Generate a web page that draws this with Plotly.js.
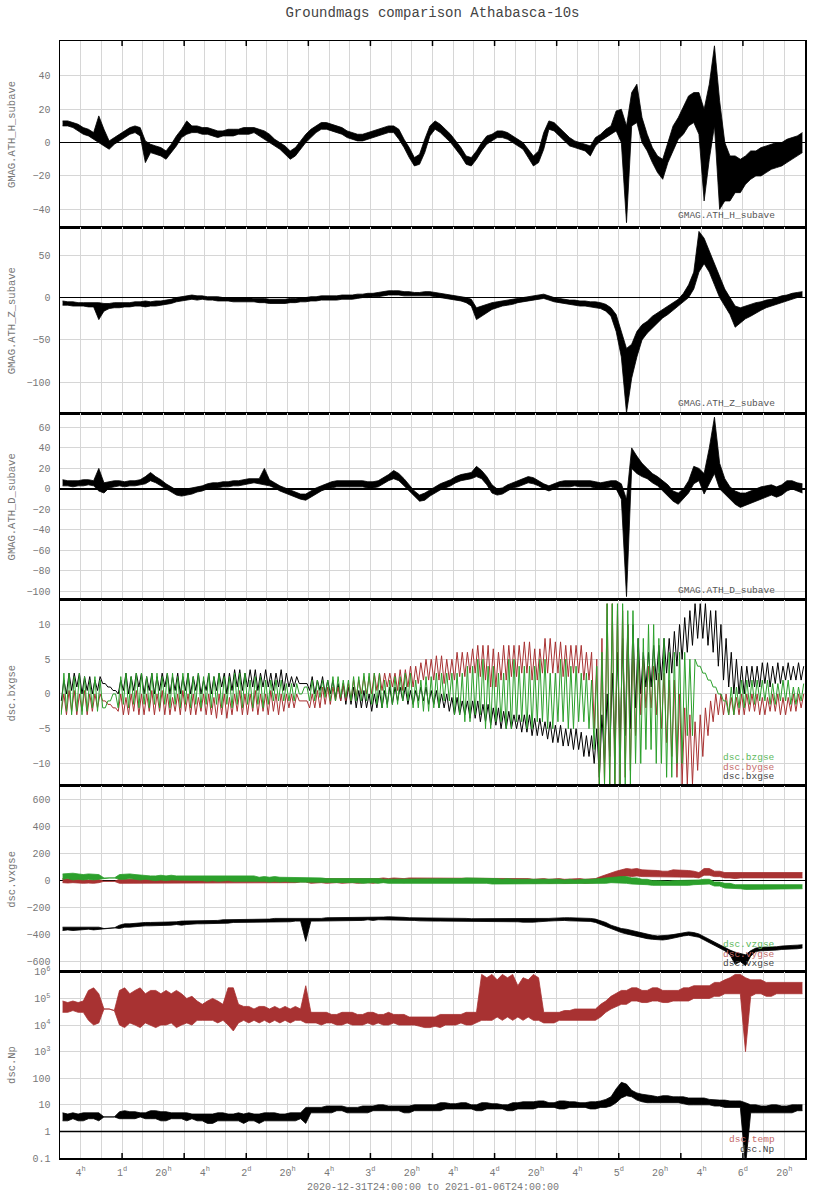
<!DOCTYPE html>
<html>
<head>
<meta charset="utf-8">
<script src="https://cdn.plot.ly/plotly-3.0.1.min.js"></script>
<style>html,body{margin:0;padding:0;background:#fff}#chart{width:815px;height:1200px}</style>
</head>
<body>
<div id="chart"></div>
<script>
// ---------- time base ----------
const START_MS = Date.UTC(2021, 0, 1);       // 2020-12-31T24:00:00
const HOUR_MS = 3600000;
const SPAN_HOURS = 144;
// 1-hour bins: centre of each bin in hours from start
const hourBins = Array.from({length: 144}, (_, j) => j + 0.5);

// x tick labels (every 8 h) and extra 4-hourly grid lines
const tickHours = [4,12,20,28,36,44,52,60,68,76,84,92,100,108,116,124,132,140];
const tickText = ['4<sup>h</sup>','1<sup>d</sup>','20<sup>h</sup>','4<sup>h</sup>','2<sup>d</sup>','20<sup>h</sup>',
                  '4<sup>h</sup>','3<sup>d</sup>','20<sup>h</sup>','4<sup>h</sup>','4<sup>d</sup>','20<sup>h</sup>',
                  '4<sup>h</sup>','5<sup>d</sup>','20<sup>h</sup>','4<sup>h</sup>','6<sup>d</sup>','20<sup>h</sup>'];
const gridHours = [8,16,24,32,40,48,56,64,72,80,88,96,104,112,120,128,136];
const markHours = [12,24,36,48,60,72,84,96,108,120,132];

// ---------- data: low / high of the 10 s samples in each hour ----------
const H_lo = [10,10,9,7,5,4,2,0,-2,-4, -1,1,3,5,6,4,-12,-6,-7,-8, -10,-6,-2,3,5,6,6,5,5,4, 3,4,4,4,5,5,5,6,4,2,
  0,-2,-4,-7,-10,-8,-4,0,3,6, 8,8,7,6,5,3,2,1,1,2, 3,4,5,6,6,2,-3,-9,-14,-13, -6,4,8,6,3,0,-4,-8,-13,-14,
  -10,-5,-1,1,3,3,2,0,-2,-4, -9,-14,-12,-4,8,7,4,1,-2,-3, -4,-5,-8,-2,1,3,5,7,0,-48, 10,12,0,-5,-12,-18,-22,-12,-5,2,
  5,10,12,5,-35,-10,10,-40,-35,-35, -30,-30,-25,-22,-20,-20,-18,-16,-15,-14, -12,-10,-8,-6];
const H_hi = [13,13,12,11,9,8,6,16,8,1, 3,5,7,9,10,9,1,-1,-2,-3, -5,-1,4,8,13,10,10,9,9,8, 7,7,8,8,8,9,9,9,8,7,
  5,2,0,-2,-5,-3,1,5,8,10, 12,12,11,10,9,7,6,5,5,6, 7,8,9,10,10,8,2,-3,-9,-7, 2,10,13,11,8,5,1,-3,-8,-9,
  -5,0,4,5,7,7,6,4,2,0, -4,-8,-5,6,13,12,9,6,3,1, 0,-1,-2,3,5,8,10,19,20,10, 30,35,15,5,-3,-8,-10,0,10,15,
  22,28,30,30,20,35,58,25,0,-8, -8,-10,-8,-5,-5,-3,-2,-1,0,0, 2,3,4,6];

const Z_lo = [-9,-9,-10,-10,-10,-11,-11,-26,-16,-13, -12,-12,-11,-11,-10,-10,-11,-10,-10,-9, -8,-7,-5,-4,-3,-2,-3,-2,-3,-3,
  -4,-4,-4,-5,-5,-5,-5,-5,-6,-6, -7,-7,-7,-7,-6,-6,-5,-5,-4,-4, -3,-3,-3,-3,-2,-2,-2,-1,0,0, 1,1,2,3,3,3,2,2,2,2,
  2,2,1,0,-1,-2,-3,-4,-6,-10, -26,-22,-18,-14,-12,-10,-9,-8,-6,-5, -4,-3,-2,-1,-3,-5,-6,-7,-8,-9,
  -10,-10,-11,-12,-13,-16,-22,-40,-70,-136, -95,-70,-50,-42,-36,-30,-24,-20,-15,-10, -6,0,10,30,40,30,15,0,-10,-20,
  -35,-30,-25,-22,-18,-15,-12,-10,-8,-6, -4,-2,0,1];
const Z_hi = [-4,-5,-5,-6,-6,-6,-6,-6,-7,-7, -6,-6,-6,-6,-5,-5,-4,-5,-4,-4, -3,-2,0,1,2,3,2,2,1,1, 1,0,0,0,0,0,0,-1,-1,-1,
  -2,-2,-2,-2,-1,-1,0,0,1,1, 2,2,2,2,3,3,3,4,4,5, 5,6,7,8,8,8,7,7,6,6, 7,7,6,5,4,3,2,1,0,-2,
  -12,-10,-8,-6,-5,-4,-3,-2,-1,0, 1,2,3,4,2,0,-1,-2,-3,-3, -4,-4,-5,-5,-6,-8,-12,-20,-40,-60,
  -55,-40,-32,-28,-22,-18,-14,-10,-6,-2, 5,15,30,78,70,55,40,25,10,0, -10,-12,-10,-8,-6,-5,-3,-2,0,2, 3,5,6,7];

const D_lo = [3,3,2,3,3,4,3,-2,-4,1, 2,3,2,3,3,4,5,8,6,3, 0,-3,-6,-7,-6,-5,-3,-2,0,1, 1,2,2,3,3,4,5,6,5,4,
  3,1,-2,-4,-6,-8,-10,-11,-8,-5, -2,0,1,2,2,2,2,2,2,1, 1,2,5,8,10,8,3,-2,-8,-12, -11,-7,-4,-1,1,3,6,8,9,10,
  12,10,4,-4,-6,-5,-2,1,2,4, 6,5,3,0,-2,0,2,2,2,3, 2,2,2,1,0,1,2,0,-10,-105, 20,15,12,10,6,3,-2,-6,-12,-15,
  -10,-4,5,8,-5,5,15,0,-5,-10, -15,-18,-16,-14,-12,-10,-8,-6,-8,-6, -2,0,-2,-4];
const D_hi = [9,8,8,8,9,9,8,20,6,7, 8,8,7,8,8,9,12,16,12,9, 5,2,-1,-1,0,1,2,3,5,6, 6,7,7,8,8,9,10,10,10,20,
  9,6,3,1,-1,-3,-5,-5,-2,1, 3,5,7,8,8,8,8,8,8,7, 7,8,11,14,18,15,10,4,-2,-6, -4,-1,2,5,7,9,12,14,15,16,
  22,18,12,4,0,1,4,6,8,10, 12,11,8,5,3,5,7,8,8,8, 8,8,8,7,6,7,8,8,5,-10, 40,32,25,20,15,12,8,4,-2,-4,
  0,8,22,20,15,40,70,25,10,2, -2,-4,-4,-2,0,2,3,4,2,4, 8,8,6,5];

const BX_lo = [-1,0,0.5,1,0,0.5,0,0.5,1.5,1, 0.5,0,0.5,0,0.5,1,0,0.5,0,0.5, 1,0,0.5,0,0.5,0,0.5,0,0.5,0,
  0.5,1,0,0.5,1,0.5,1,1,0.5,1, 1,0.5,1,0.5,1,1,1.5,1.5,0.5,0, 0.5,0,0,-0.5,-1,-1.5,-1.5,-2,-2,-2,
  -2.5,-2,-2,-1.5,-1.5,-1,-1,-1.5,-1.5,-1, -1,-1.5,-1.5,-2,-2,-2.5,-3,-3,-3,-3.5, -3.5,-4,-4,-4.5,-4.5,-5,-5,-5,-5,-5.5,
  -5.5,-6,-6,-6,-6.5,-7,-7,-7.5,-7.5,-8, -8,-9,-9,-10,-12,-10,-9,-8,-8,-6, -5,-2,0,1,1,2,2,3,3,4,
  5,6,7,8,8,7,6,4,2,1, 0,0,0,1,1,1,1.5,1,1.5,1.5, 2,2,2,2];
const BX_hi = [2,3,3,3,2.5,2.5,2,2.5,1.5,1, 0.5,2,3,2.5,3,3,2.5,3,2.5,3, 3,2.5,3,2.5,3,2.5,3,2,3,2.5,
  3,3,3,3.5,3.5,3,3.5,3.5,3,3.5, 3,3,3.5,3,2.5,2.5,1.5,1.5,2.5,2, 2.5,2,2,1.5,1.5,1,1,0.5,0.5,0,
  0,0.5,0.5,1,1,1,1,0.5,0.5,1, 1,0.5,0.5,0,0,-0.5,-0.5,-1,-1,-1, -1,-1.5,-1.5,-2,-2,-2.5,-2.5,-3,-3,-3,
  -3,-3.5,-3.5,-4,-4,-4.5,-4.5,-5,-5,-5, -5.5,-6,-6,-5,-3,0,3,6,8,10, 10,8,6,6,7,7,8,8,9,10,
  11,12,13,13,13,12,12,10,8,6, 5,4,4,4,4,4.5,4.5,4,4.5,4, 4.5,4,4.5,4];
const BY_lo = [-2.5,-3,-2.5,-3,-2.5,-3,-2.5,-2,-1,-1.5, -2,-2.5,-3,-3,-2.5,-3,-3,-2.5,-3,-2.5, -3,-3,-2.5,-3,-2.5,-3,-3,-2.5,-3,-3,
  -3.5,-3,-3.5,-3,-2.5,-3,-3,-2.5,-3,-2.5, -3,-2.5,-3,-2.5,-2,-2,-1,-1,-2,-2, -2,-1.5,-1.5,-1,-1,-1,-1,-0.5,0,0,
  0,0.5,0.5,1,1,0.5,0.5,1,1,1.5, 2,2,2,2,1.5,2,2,2.5,2.5,3, 3,2.5,2,1,1,2,2,2.5,2.5,3,
  3,2,2,3,3,3,3,2.5,2.5,3, 3,2,2,-5,-13,-13,-13,-13,-13,-12, -11,-6,-3,-2,-2,-3,-5,-7,-9,-12,
  -13,-13,-13,-11,-9,-6,-4,-3,-3,-3, -3,-3,-3,-2.5,-2.5,-3,-3,-2.5,-2.5,-3, -3,-2.5,-2.5,-2];
const BY_hi = [0,0.5,0.5,0,0.5,0,0,0,-1,-1.5, -2,0,-0.5,0,0.5,0,0,0.5,0,0.5, 0,-0.5,0,0.5,0,0,-0.5,0,0,-0.5,
  0,0,-0.5,0,0.5,0,0,0.5,0,0, 0.5,0,0,0,0,0,-1,-1,0,0.5, 1,1,1,1,1.5,1.5,2,2,2.5,2.5,
  3,3,3,3,3,3.5,3.5,4,4,4.5, 5,5,5.5,5.5,5,5,6,6,6,6.5, 7,7,7,6.5,6,7,7,7,7,7.5,
  7.5,6.5,6.5,8,8,7.5,7.5,7,7,7, 7,6,6,5,8,13,13,12,12,10, 8,6,5,4,4,3,3,2,2,0,
  -2,-3,-4,-3,-2,-1,0,0,0,-0.5, -0.5,0,0,0,0,-0.5,-0.5,0,0,-0.5, -0.5,0,0,0];
const BZ_lo = [-3,-2.5,-3,-2.5,-3,-2.5,-2,-2.5,-2,-1, 0,-2,-1.5,-2,-1.5,-2,-1.5,-2,-1.5,-2, -1.5,-2,-1.5,-2,-1.5,-2,-1.5,-2,-1.5,-2,
  -1.5,-2,-1.5,-2,-1.5,-2,-1.5,-2,-1.5,-2, -1.5,-1,-1,-1,-1,-1,0,1,-1,-1, -0.5,-0.5,-1,-1,-0.5,-0.5,-1,-1,-1,-1,
  -1.5,-1.5,-2,-2,-1.5,-1.5,-1,-1,-2,-2, -2.5,-2.5,-2,-2,-1,-1,-3,-3,-4,-4, -3,-3,-5,-5,-4,-4,-5,-5,-4,-4,
  -5,-5,-4,-4,-5,-5,-4,-4,-5,-5, -4,-4,-5,-8,-13,-13,-13,-13,-13,-13, -13,-10,-10,-8,-8,-10,-10,-12,-12,-10,
  -10,-6,-6,4,3,2,1,0,-1,-3, -3,-2,-2,-1.5,-1.5,-1,-1,-1.5,-1.5,-1, -1,-1.5,-1.5,-1];
const BZ_hi = [3,3,2.5,3,2.5,2,2.5,2,-2,-1, 0,2.5,3,2.5,3,3,2.5,3,3,2.5, 3,3,2.5,3,3,2.5,3,2.5,3,2.5,
  3,2.5,2.5,3,3,3,2,2.5,2.5,2, 2,2,2,1.5,1.5,1.5,0,1,2,2, 2,2,2.5,2.5,2,2,2.5,2.5,3,3,
  3,3,2,2,2.5,2.5,3,3,2,2, 2.5,2.5,3,3,3,3,3,3,4,4, 5,5,4,4,3,3,5,5,4,4,
  4,4,5,5,3,3,5,5,4,4, 3,3,2,4,6,13,13,13,13,12, 12,8,8,10,10,8,8,6,6,6,
  6,5,5,4,3,2,1,0,-1,1, 1,2,2,2,2,2,2,1.5,1.5,2, 2,1,1,1.5];

const VX_lo = [-370,-365,-370,-365,-365,-360,-365,-360,-355,-352, -350,-355,-345,-345,-340,-340,-335,-335,-335,-330,
  -330,-330,-325,-330,-325,-320,-320,-320,-320,-315, -315,-315,-315,-310,-310,-310,-310,-310,-305,-310,
  -305,-305,-305,-305,-305,-300,-300,-450,-300,-300, -300,-300,-300,-295,-295,-295,-295,-295,-295,-290,
  -295,-290,-290,-290,-290,-292,-295,-295,-295,-298, -300,-300,-300,-300,-300,-300,-300,-302,-300,-305,
  -305,-302,-300,-302,-300,-305,-305,-305,-305,-308, -310,-308,-305,-305,-300,-298,-295,-295,-298,-300,
  -300,-300,-302,-310,-325,-340,-360,-375,-385,-395, -405,-410,-420,-430,-435,-440,-440,-435,-425,-420,
  -410,-405,-410,-420,-440,-460,-480,-495,-520,-550, -620,-600,-630,-560,-525,-520,-520,-515,-515,-510, -510,-505,-505,-500];
const VX_hi = [-345,-345,-345,-340,-340,-340,-345,-345,-355,-352, -350,-330,-320,-320,-315,-315,-310,-310,-310,-305,
  -305,-305,-305,-300,-300,-300,-300,-295,-295,-295, -295,-290,-290,-290,-290,-285,-285,-285,-285,-285,
  -285,-280,-280,-280,-280,-285,-285,-285,-280,-280, -280,-275,-275,-275,-275,-275,-275,-270,-270,-270,
  -270,-270,-270,-268,-268,-270,-272,-275,-275,-275, -275,-278,-280,-280,-278,-280,-280,-280,-280,-282,
  -282,-280,-280,-280,-280,-282,-285,-285,-285,-285, -285,-285,-285,-283,-280,-278,-275,-275,-275,-275,
  -275,-278,-280,-285,-295,-310,-330,-345,-355,-360, -370,-380,-390,-395,-405,-410,-410,-405,-400,-395,
  -385,-380,-385,-395,-415,-435,-460,-475,-495,-515, -530,-540,-550,-520,-500,-495,-495,-490,-490,-485, -485,-480,-478,-475];
const VY_lo = [-15,-18,-15,-20,-20,-18,-20,-15,-5,-5, -5,-20,-20,-15,-18,-15,-20,-15,-15,-20, -15,-18,-20,-15,-15,-20,-18,-15,-20,-15,
  -15,-20,-15,-18,-20,-15,-15,-20,-18,-15, -20,-15,-18,-20,-15,-15,-10,-10,-20,-15, -15,-20,-18,-15,-20,-15,-15,-20,-18,-15,
  -20,-15,-10,-15,-10,-12,-15,-10,-10,-15, -10,-12,-15,-10,-10,-15,-10,-12,-10,-10, -15,-10,-10,-15,-12,-10,-15,-10,-12,-15,
  -15,-20,-18,-15,-20,-15,-15,-20,-18,-20, -15,-20,-20,-15,-5,5,15,25,25,35, 30,35,30,30,30,30,25,30,30,25,
  30,30,25,20,40,40,30,30,20,20, 15,20,20,15,20,15,20,20,20,15, 15,20,20,20];
const VY_hi = [15,12,10,10,8,5,5,8,-5,-5, -5,10,10,15,12,15,10,15,15,10, 15,12,10,15,15,10,12,15,10,15,
  15,10,15,12,10,15,15,10,12,15, 10,15,12,10,15,15,5,5,10,15, 15,10,12,15,10,15,15,10,12,15,
  10,15,20,15,20,18,15,20,20,15, 20,18,15,20,20,15,20,18,20,20, 15,20,20,15,18,20,15,20,18,15,
  15,10,12,15,10,15,15,10,12,10, 15,10,10,15,30,45,60,70,80,90, 85,90,80,80,75,75,70,70,80,80,
  75,75,70,60,90,90,70,70,60,60, 55,60,60,55,60,55,60,60,55,55, 55,60,60,60];
const VZ_lo = [10,15,5,10,5,10,5,10,20,20, 20,10,10,15,10,5,10,5,0,5, 0,5,5,0,0,5,0,0,-5,0,
  -5,0,0,-5,-5,0,-5,0,0,-5, -10,-5,-10,-5,-10,-10,-10,-10,-10,-15, -10,-15,-10,-10,-15,-10,-15,-15,-20,-15,
  -15,-20,-15,-20,-20,-15,-15,-20,-15,-20, -15,-20,-20,-15,-15,-20,-20,-15,-15,-20, -15,-20,-20,-25,-25,-20,-20,-25,-25,-20,
  -25,-20,-20,-25,-25,-20,-20,-25,-25,-20, -25,-20,-20,-25,-20,-20,-15,-15,-20,-20, -25,-25,-30,-30,-35,-35,-40,-40,-40,-40,
  -35,-35,-30,-30,-25,-25,-40,-40,-55,-55, -60,-60,-65,-65,-60,-60,-65,-65,-60,-60, -65,-65,-60,-60];
const VZ_hi = [50,55,55,50,45,50,45,45,20,20, 20,45,50,50,45,40,40,35,35,40, 35,40,35,35,30,35,30,30,30,30,
  30,35,35,30,30,30,30,35,25,30, 25,30,25,25,20,20,20,20,20,20, 20,15,15,20,15,15,15,15,15,15,
  15,15,10,10,15,15,10,15,15,10, 15,10,15,15,15,10,10,15,20,20, 15,15,20,15,15,10,15,10,10,15,
  10,15,10,10,15,10,10,5,10,5, 10,10,10,10,15,20,25,25,30,30, 20,20,10,10,0,0,-5,-5,0,0,
  5,5,5,5,10,10,-10,-10,-20,-20, -30,-30,-35,-35,-30,-30,-35,-35,-30,-30, -35,-35,-30,-30];

const TEMP_lo = [3e4,3e4,3.5e4,3e4,3e4,1.5e4,1e4,1.2e4,4e4,4e4, 3.5e4,1e4,8e3,1.2e4,1e4,8e3,1.2e4,1e4,8e3,1e4,
  1e4,1.2e4,8e3,1e4,1.2e4,1e4,1.5e4,1.5e4,1.5e4,1.5e4, 1.2e4,1.5e4,1e4,6e3,1.2e4,1.5e4,1.2e4,1.5e4,1.2e4,1.5e4,
  1.2e4,1.5e4,1.2e4,1.5e4,1.2e4,1.5e4,1.5e4,1.2e4,1.2e4,1.2e4, 1e4,1.2e4,1.2e4,1e4,1e4,1.2e4,1e4,1e4,1e4,1.2e4,
  1e4,1.2e4,1e4,1e4,1.2e4,1e4,1e4,1e4,1e4,9e3, 8e3,8e3,9e3,8e3,1e4,1e4,1e4,1.2e4,1e4,1e4,
  1.2e4,1.5e4,1.5e4,1.5e4,2e4,1.5e4,2e4,1.5e4,2e4,1.5e4, 2e4,1.5e4,1.5e4,1.2e4,1.2e4,1.2e4,1.5e4,1.5e4,1.5e4,1.5e4,
  1.5e4,1.5e4,1.5e4,1.5e4,2e4,3e4,4e4,5e4,6e4,6e4, 8e4,8e4,7e4,7e4,8e4,8e4,7e4,7e4,8e4,8e4,
  8e4,8e4,1e5,1e5,1e5,1e5,1.2e5,1.2e5,1.5e5,1.5e5, 1.5e5,1.5e5,1e3,1.2e5,1.5e5,1.5e5,1.2e5,1.2e5,1.5e5,1.5e5, 1.5e5,1.5e5,1.5e5,1.5e5];
const TEMP_hi = [8e4,7e4,8e4,7e4,8e4,2e5,2.5e5,1.5e5,4e4,4e4, 3.5e4,2e5,2.5e5,1.5e5,2e5,2.5e5,1.5e5,2e5,2e5,1.5e5,
  2e5,1.5e5,2e5,1.5e5,1e5,1.2e5,8e4,6e4,8e4,1e5, 8e4,6e4,2.5e5,2.5e5,6e4,5e4,5e4,4e4,5e4,5e4,
  4e4,5e4,4e4,5e4,4e4,5e4,4e4,3e5,3e4,3e4, 3e4,3e4,2.5e4,2.5e4,3e4,3e4,3e4,2.5e4,2.5e4,3e4,
  3e4,2.5e4,2.5e4,3e4,2.5e4,2.5e4,2.5e4,2e4,2e4,2e4, 2e4,2e4,2e4,2.5e4,2.5e4,2.5e4,2.5e4,2.5e4,3e4,3e4,
  3e4,8e5,6e5,8e5,5e5,8e5,6e5,8e5,3e5,6e5, 5e5,8e5,6e5,3e4,3e4,3e4,3e4,3.5e4,3.5e4,4e4,
  4e4,4e4,4e4,4e4,6e4,8e4,1.2e5,1.5e5,2e5,2e5, 2.5e5,2.5e5,2e5,2e5,2.5e5,2.5e5,2e5,2e5,2e5,2e5,
  2.5e5,2.5e5,3e5,3e5,3e5,3e5,4e5,4e5,5e5,6e5, 8e5,8e5,6e5,5e5,5e5,5e5,4e5,4e5,4e5,4e5, 4e5,4e5,4e5,4e5];
const NP_lo = [2.5,2.5,3,2.5,2.5,3,3,2.5,3.5,3.5, 3.5,3,3,3,3,3.5,3,3,3,2.5, 2.5,3,3,3,2.5,3,2.5,2.5,2,2,
  2.5,2.5,2.5,2.5,2.5,2,2.5,2.5,2,2.5, 2.5,2.5,2.5,2.5,2.5,2.5,3,2,5,5, 5,5,5,6,6,5,5,5,5,5,
  6,6,6,6,6,6,5,5,6,6, 6,6,6,6,7,7,7,7,7,7, 6,6,7,7,7,7,6,6,7,7,
  7,7,8,8,8,8,7,7,8,8, 8,8,7,7,8,8,9,12,18,22, 20,15,13,12,12,12,12,12,12,12,
  11,10,10,10,10,10,9,9,8,8, 8,8,0.05,5,5,5,5,5,5,5, 5,5,6,6];
const NP_hi = [5,4.5,5,4.5,5,5,5,5,3.5,3.5, 3.5,5.5,6,5.5,5.5,5,5,6,6,5.5, 5.5,5,5,5,5,4.5,4.5,4.5,4.5,4.5,
  5,5,4.5,4.5,5,4.5,5,4.5,4.5,5, 5,5,4.5,4.5,5,5,5,8,8,8, 8,9,9,9,9,8,8,8,9,9,
  9,10,10,9,9,9,9,9,10,10, 10,10,10,12,12,11,11,12,12,10, 10,12,12,11,11,10,10,12,12,13,
  13,13,14,14,12,12,14,14,13,13, 12,12,13,13,14,16,20,40,70,60, 35,28,25,24,22,20,22,22,20,20,
  20,18,18,18,18,16,15,15,15,14, 14,14,12,10,10,9,9,10,10,9, 9,10,10,10];

// sanity check: every series has one low/high pair per hour
[['H_lo',H_lo],['H_hi',H_hi],['Z_lo',Z_lo],['Z_hi',Z_hi],['D_lo',D_lo],['D_hi',D_hi],
 ['BX_lo',BX_lo],['BX_hi',BX_hi],['BY_lo',BY_lo],['BY_hi',BY_hi],['BZ_lo',BZ_lo],['BZ_hi',BZ_hi],
 ['VX_lo',VX_lo],['VX_hi',VX_hi],['VY_lo',VY_lo],['VY_hi',VY_hi],['VZ_lo',VZ_lo],['VZ_hi',VZ_hi],
 ['TEMP_lo',TEMP_lo],['TEMP_hi',TEMP_hi],['NP_lo',NP_lo],['NP_hi',NP_hi]]
 .forEach(([name, arr]) => { if (arr.length !== hourBins.length) throw new Error(name + ' has ' + arr.length + ' values'); });

// ---------- styling ----------
const MONO = '"Liberation Mono", "DejaVu Sans Mono", monospace';
const BLACK = '#000000', RED = '#a83232', GREEN = '#2ca02c';
const GRID = '#d6d6d6';
const toMs = h => START_MS + h * HOUR_MS;
const sfx = n => (n === 1 ? '' : String(n));

function band(lo, hi, color, n) {
  const x = hourBins.map(toMs);
  const common = {type: 'scatter', mode: 'lines', x: x, xaxis: 'x' + sfx(n), yaxis: 'y' + sfx(n),
                  hoverinfo: 'skip', showlegend: false};
  return [
    Object.assign({}, common, {y: lo, line: {color: color, width: 0.8}}),
    Object.assign({}, common, {y: hi, line: {color: color, width: 0.8}, fill: 'tonexty', fillcolor: color})
  ];
}
function zigzag(lo, hi, color, n) {
  const x = hourBins.flatMap(h => [toMs(h - 0.25), toMs(h + 0.25)]);
  const y = lo.flatMap((v, k) => [v, hi[k]]);
  return [{type: 'scatter', mode: 'lines', x: x, y: y, xaxis: 'x' + sfx(n), yaxis: 'y' + sfx(n),
           line: {color: color, width: 1}, hoverinfo: 'skip', showlegend: false}];
}

const traces = [].concat(
  band(H_lo, H_hi, BLACK, 1),
  band(Z_lo, Z_hi, BLACK, 2),
  band(D_lo, D_hi, BLACK, 3),
  zigzag(BX_lo, BX_hi, BLACK, 4),
  zigzag(BY_lo, BY_hi, RED, 4),
  zigzag(BZ_lo, BZ_hi, GREEN, 4),
  band(VX_lo, VX_hi, BLACK, 5),
  band(VY_lo, VY_hi, RED, 5),
  band(VZ_lo, VZ_hi, GREEN, 5),
  [{type: 'scatter', mode: 'lines', x: [toMs(0), toMs(SPAN_HOURS)], y: [1, 1], xaxis: 'x6', yaxis: 'y6',
    line: {color: '#000', width: 1.5}, hoverinfo: 'skip', showlegend: false}],
  band(TEMP_lo, TEMP_hi, RED, 6),
  band(NP_lo, NP_hi, BLACK, 6)
);

const panels = [
  {title: 'GMAG.ATH_H_subave', range: [-50.7, 60.9], tickvals: [-40,-20,0,20,40], zero: true,
   labels: [{text: 'GMAG.ATH_H_subave', color: '#555', y: 0.06}]},
  {title: 'GMAG.ATH_Z_subave', range: [-136.5, 83], tickvals: [-100,-50,0,50], zero: true,
   labels: [{text: 'GMAG.ATH_Z_subave', color: '#555', y: 0.054}]},
  {title: 'GMAG.ATH_D_subave', range: [-107.8, 73.7], tickvals: [-100,-80,-60,-40,-20,0,20,40,60], zero: true,
   labels: [{text: 'GMAG.ATH_D_subave', color: '#555', y: 0.048}]},
  {title: 'dsc.bxgse', range: [-13.2, 13.6], tickvals: [-10,-5,0,5,10], zero: false,
   labels: [{text: 'dsc.bzgse', color: '#5cb85c', y: 0.15}, {text: 'dsc.bygse', color: '#c46a6a', y: 0.10},
            {text: 'dsc.bxgse', color: '#444', y: 0.05}]},
  {title: 'dsc.vxgse', range: [-676, 704], tickvals: [-600,-400,-200,0,200,400,600], zero: true,
   labels: [{text: 'dsc.vzgse', color: '#5cb85c', y: 0.145}, {text: 'dsc.vygse', color: '#c46a6a', y: 0.093},
            {text: 'dsc.vxgse', color: '#444', y: 0.045}]},
  {title: 'dsc.Np', range: [-1, 6], type: 'log', tickvals: [0.1,1,10,100,1e3,1e4,1e5,1e6], zero: false,
   ticktext: ['0.1','1','10','100','10<sup>3</sup>','10<sup>4</sup>','10<sup>5</sup>','10<sup>6</sup>'],
   labels: [{text: 'dsc.temp', color: '#c46a6a', y: 0.097}, {text: 'dsc.Np', color: '#444', y: 0.045}]}
];

const layout = {
  width: 815, height: 1200,
  margin: {l: 60, r: 10, t: 41, b: 42, pad: 0},
  paper_bgcolor: '#ffffff', plot_bgcolor: '#ffffff',
  font: {family: MONO, size: 10, color: '#777'},
  showlegend: false,
  title: {text: 'Groundmags comparison Athabasca-10s', x: 0.5, xref: 'paper', xanchor: 'center',
          y: 1 - 12 / 1200, yref: 'container', yanchor: 'middle',
          font: {family: MONO, size: 14, color: '#444'}},
  annotations: [],
  shapes: []
};

const LEGEND_X = (777 - 60) / 745;
panels.forEach((p, i) => {
  const n = i + 1;
  layout['xaxis' + sfx(n)] = {
    type: 'date', domain: [0, 1], anchor: 'y' + sfx(n),
    range: [toMs(0), toMs(SPAN_HOURS)], autorange: false,
    tickmode: 'array', tickvals: tickHours.map(toMs), ticktext: tickText,
    showticklabels: n === 6, ticks: '', ticklabelstandoff: 4,
    tickfont: {family: MONO, size: 10, color: '#777'},
    showgrid: true, gridcolor: GRID, gridwidth: 1,
    minor: {tickmode: 'array', tickvals: gridHours.map(toMs), showgrid: true, gridcolor: GRID, gridwidth: 1, ticks: ''},
    showline: true, mirror: true, linecolor: '#000', linewidth: 1.5, zeroline: false, fixedrange: true
  };
  const ya = {
    domain: [1 - n / 6, 1 - (n - 1) / 6], anchor: 'x' + sfx(n),
    range: p.range, autorange: false, tickmode: 'array', tickvals: p.tickvals,
    ticks: '', ticklabelstandoff: 6,
    tickfont: {family: MONO, size: 10, color: '#777'},
    showgrid: true, gridcolor: GRID, gridwidth: 1,
    zeroline: p.zero, zerolinecolor: '#000', zerolinewidth: 1.5,
    showline: true, mirror: true, linecolor: '#000', linewidth: 1.5, fixedrange: true
  };
  if (p.type) ya.type = p.type;
  if (p.ticktext) ya.ticktext = p.ticktext;
  layout['yaxis' + sfx(n)] = ya;

  layout.annotations.push({text: p.title, textangle: -90, xref: 'paper', x: (12 - 60) / 745, xanchor: 'center',
    yref: 'y' + sfx(n) + ' domain', y: 0.5, yanchor: 'middle', showarrow: false,
    font: {family: MONO, size: 10.5, color: '#777'}});
  p.labels.forEach(l => layout.annotations.push({text: l.text, xref: 'paper', x: LEGEND_X, xanchor: 'right',
    yref: 'y' + sfx(n) + ' domain', y: l.y, yanchor: 'middle', showarrow: false,
    font: {family: MONO, size: 9.5, color: l.color}}));
});

markHours.forEach(h => {
  layout.shapes.push({type: 'line', xref: 'x', yref: 'y domain', x0: toMs(h), x1: toMs(h), y0: 1, y1: 1 - 5 / 186,
                      line: {color: '#000', width: 1.5}});
  layout.shapes.push({type: 'line', xref: 'x6', yref: 'y6 domain', x0: toMs(h), x1: toMs(h), y0: 0, y1: 5 / 186,
                      line: {color: '#000', width: 1.5}});
});

layout.annotations.push({text: '2020-12-31T24:00:00 to 2021-01-06T24:00:00', xref: 'paper', x: 0.5, xanchor: 'center',
  yref: 'paper', y: -(1187 - 1158) / 1117, yanchor: 'middle', showarrow: false,
  font: {family: MONO, size: 10, color: '#777'}});

Plotly.newPlot('chart', traces, layout, {staticPlot: true, displayModeBar: false});
</script>
</body>
</html>
